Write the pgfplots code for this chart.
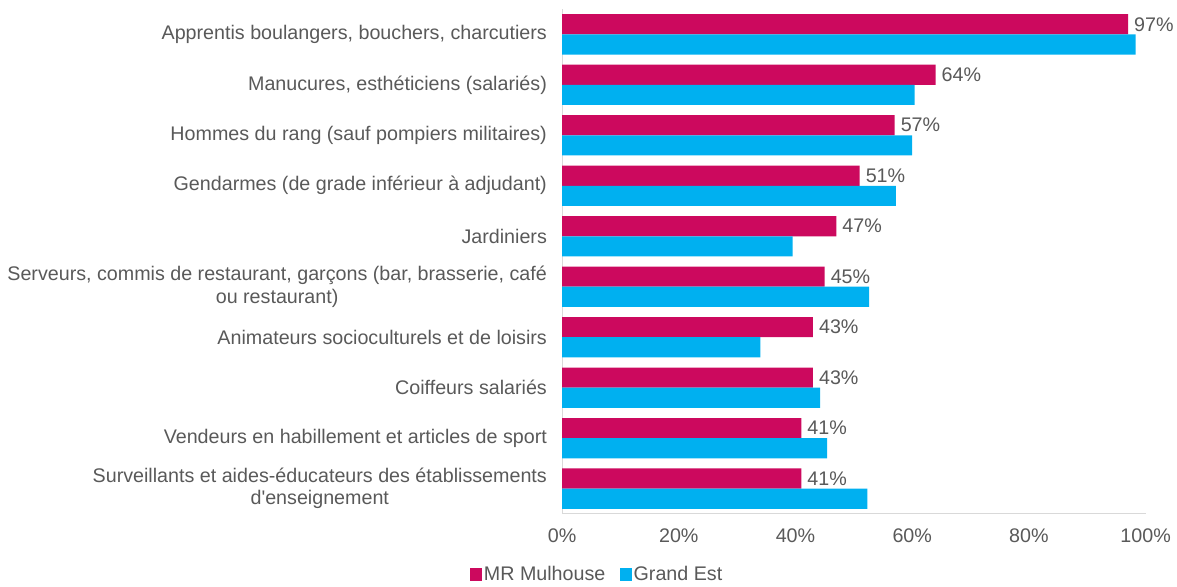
\documentclass[border=0pt]{standalone}
\usepackage{pgfplots}
\pgfplotsset{compat=1.18}
\usepackage{fontspec}
\setmainfont{Liberation Sans}
\definecolor{mrmag}{RGB}{204,9,94}
\definecolor{gecyan}{RGB}{0,176,240}
\definecolor{txt}{RGB}{89,89,89}
\definecolor{axl}{RGB}{217,217,217}
\newcommand\ff{\fontsize{19.5pt}{22pt}\selectfont}

\begin{document}
\begin{tikzpicture}
\begin{axis}[
  xbar, scale only axis,
  width=578pt, height=500pt,
  xmin=0, xmax=100, ymin=-0.5, ymax=9.5,
  bar width=20pt,
  axis x line*=bottom, axis y line*=left,
  axis line style={draw=axl, line width=1pt},
  major tick length=0pt,
  xtick={0,20,...,100},
  xticklabel={\pgfmathprintnumber{\tick}\%},
  /pgf/number format/assume math mode=true,
  xticklabel style={yshift=-11pt},
  ytick={0,...,9},
  yticklabels={
    {Surveillants et aides-éducateurs des établissements\\d\textquotesingle enseignement},
    {Vendeurs en habillement et articles de sport},
    {Coiffeurs salariés},
    {Animateurs socioculturels et de loisirs},
    {Serveurs, commis de restaurant, garçons (bar, brasserie, café\\ou restaurant)},
    {Jardiniers},
    {Gendarmes (de grade inférieur à adjudant)},
    {Hommes du rang (sauf pompiers militaires)},
    {Manucures, esthéticiens (salariés)},
    {Apprentis boulangers, bouchers, charcutiers}},
  yticklabel style={align=center, xshift=-11.5pt},
  tick label style={font=\ff, text=txt},
  legend columns=2,
  legend style={at={(0.06,-0.12)}, anchor=center, draw=none, font=\ff, text=txt,
    /tikz/every even column/.append style={column sep=12pt}},
  legend image code/.code={\fill[#1] (0pt,-6pt) rectangle (12pt,6pt);},
]
\addplot[fill=mrmag, draw=none, bar shift=10pt,
  nodes near coords={\pgfmathprintnumber{\pgfplotspointmeta}\%},
  nodes near coords style={font=\ff, text=txt, xshift=2.5pt}]
  coordinates {(41,0) (41,1) (43,2) (43,3) (45,4) (47,5) (51,6) (57,7) (64,8) (97,9)};
\addlegendentry{MR Mulhouse}
\addplot[fill=gecyan, draw=none, bar shift=-10pt]
  coordinates {(52.3,0) (45.4,1) (44.2,2) (34.0,3) (52.6,4) (39.5,5) (57.2,6) (60.0,7) (60.4,8) (98.3,9)};
\addlegendentry{Grand Est}
\end{axis}
% a little white space above and to the left, as in the reference
\path ([yshift=9pt]current axis.north) ([xshift=-4pt]current bounding box.west);
\end{tikzpicture}
\end{document}
